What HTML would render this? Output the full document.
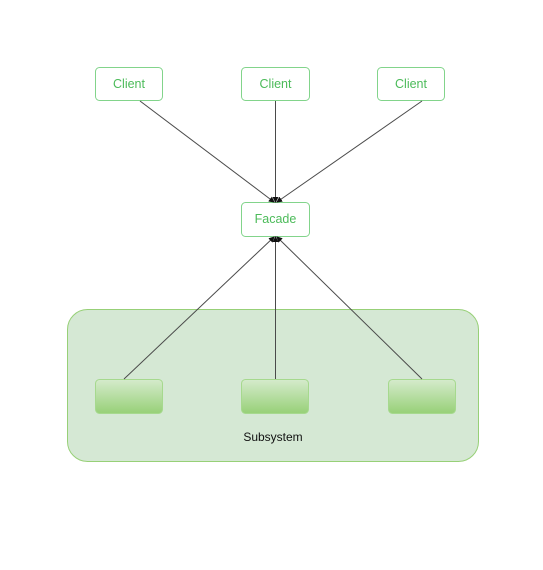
<!DOCTYPE html>
<html><head><meta charset="utf-8"><style>
html,body{margin:0;padding:0;background:#fff;}
svg{display:block;}
text{font-family:"Liberation Sans",sans-serif;}
</style></head><body>
<svg width="543" height="570" viewBox="0 0 543 570" xmlns="http://www.w3.org/2000/svg">
<defs>
<linearGradient id="g" x1="0" y1="0" x2="0" y2="1">
<stop offset="0" stop-color="#d5ebcc"/><stop offset="1" stop-color="#97d077"/>
</linearGradient>
<marker id="a" markerWidth="6" markerHeight="6" refX="5" refY="3" orient="auto" markerUnits="userSpaceOnUse">
<path d="M0,0 L6,3 L0,6 Z" fill="#111"/>
</marker>
</defs>
<rect x="67.5" y="309.5" width="411" height="152" rx="20" fill="#d5e8d4" stroke="#97d077"/>
<g fill="#fff" stroke="#82d48b">
<rect x="95.5" y="67.5" width="67" height="33" rx="4"/>
<rect x="241.5" y="67.5" width="68" height="33" rx="4"/>
<rect x="377.5" y="67.5" width="67" height="33" rx="4"/>
<rect x="241.5" y="202.5" width="68" height="34" rx="4"/>
</g>
<g fill="url(#g)" stroke="#a6d98e">
<rect x="95.5" y="379.5" width="67" height="34" rx="4"/>
<rect x="241.5" y="379.5" width="67" height="34" rx="4"/>
<rect x="388.5" y="379.5" width="67" height="34" rx="4"/>
</g>
<g stroke="#4a4a4a" stroke-width="1" marker-end="url(#a)">
<line x1="140" y1="101" x2="274" y2="202"/>
<line x1="275.5" y1="101" x2="275.5" y2="202"/>
<line x1="422" y1="101" x2="277" y2="202"/>
<line x1="124" y1="379" x2="274" y2="237"/>
<line x1="275.5" y1="379" x2="275.5" y2="237"/>
<line x1="422" y1="379" x2="277" y2="237"/>
</g>
<g fill="#4cbb5a" font-size="12.5" text-anchor="middle">
<text x="129" y="88">Client</text>
<text x="275.5" y="88">Client</text>
<text x="411" y="88">Client</text>
<text x="275.5" y="223">Facade</text>
</g>
<text x="273" y="441" font-size="12" fill="#111" text-anchor="middle">Subsystem</text>
</svg>
</body></html>
